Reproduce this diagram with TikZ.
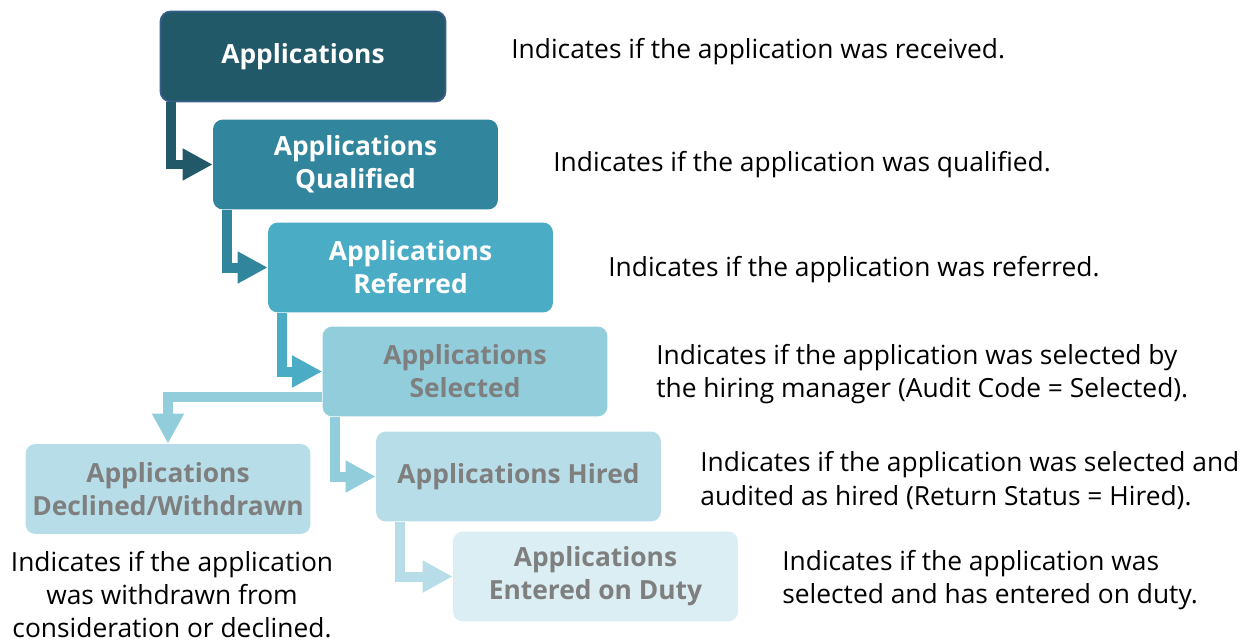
\documentclass[tikz,border=0pt]{standalone}
\usepackage{fontspec}
\setmainfont{Open Sans}
\usetikzlibrary{arrows.meta}
\definecolor{aquaA}{HTML}{215968}
\definecolor{aquaB}{HTML}{31859C}
\definecolor{aquaC}{HTML}{4BACC6}
\definecolor{aquaD}{HTML}{92CDDC}
\definecolor{aquaE}{HTML}{B7DEE8}
\definecolor{aquaF}{HTML}{DAEEF3}
\definecolor{boxline}{HTML}{385D8A}
\definecolor{greytext}{HTML}{7F7F7F}
\tikzset{
	stage/.style={rounded corners=0.2cm, minimum width=5.7cm, minimum height=1.8cm, inner sep=0pt, align=center, font=\fontsize{15}{18.8}\selectfont\bfseries},
	note/.style={inner sep=0pt, anchor=west, align=left, font=\fontsize{15}{18.8}\selectfont},
	feed/.style={line width=0.2cm, -{Triangle[length=0.6cm,width=0.6cm]}}
}

\begin{document}
\begin{tikzpicture}[x=0.02cm,y=-0.02cm]
			%%%%% START %%%%%
			\useasboundingbox (0,0) rectangle (1247,642);
			
			\node[stage, fill=aquaA, draw=boxline, line width=1pt, text=white] (recv) at (303,56.5) {Applications};
			\node[stage, fill=aquaB, text=white] (qual) at (355.5,164.5) {Applications\\Qualified};
			\node[stage, fill=aquaC, text=white] (refr) at (410.5,267.5) {Applications\\Referred};
			\node[stage, fill=aquaD, text=greytext] (sel) at (465,371.5) {Applications\\Selected};
			\node[stage, fill=aquaE, text=greytext] (hire) at (518.5,476.5) {Applications Hired};
			\node[stage, fill=aquaF, text=greytext] (eod) at (595.5,576.5) {Applications\\Entered on Duty};
			\node[stage, fill=aquaE, text=greytext] (decl) at (168,489) {Applications\\Declined/Withdrawn};
			
			\draw[feed, aquaA] ([xshift=0.22cm]recv.south west) |- (qual.west);
			\draw[feed, aquaB] ([xshift=0.28cm]qual.south west) |- (refr.west);
			\draw[feed, aquaC] ([xshift=0.28cm]refr.south west) |- (sel.west);
			\draw[feed, aquaD] ([xshift=0.26cm]sel.south west) |- (hire.west);
			\draw[feed, aquaE] ([xshift=0.48cm]hire.south west) |- (eod.west);
			\draw[feed, aquaD] ([yshift=-0.51cm]sel.west) -| (decl.north);
			
			\node[note] (nrecv) at (511,52) {Indicates if the application was received.};
			\node[note] (nqual) at (553,165) {Indicates if the application was qualified.};
			\node[note] (nrefr) at (608,270) {Indicates if the application was referred.};
			\node[note] (nsel) at (656,374.5) {Indicates if the application was selected by\\the hiring manager (Audit Code = Selected).};
			\node[note] (nhire) at (700,480.5) {Indicates if the application was selected and\\audited as hired (Return Status = Hired).};
			\node[note] (neod) at (782,580) {Indicates if the application was\\selected and has entered on duty.};
			\node[note, anchor=center, align=center] (ndecl) at (172,595) {Indicates if the application\\was withdrawn from\\consideration or declined.};
			%%%%% END %%%%%
\end{tikzpicture}
\end{document}
